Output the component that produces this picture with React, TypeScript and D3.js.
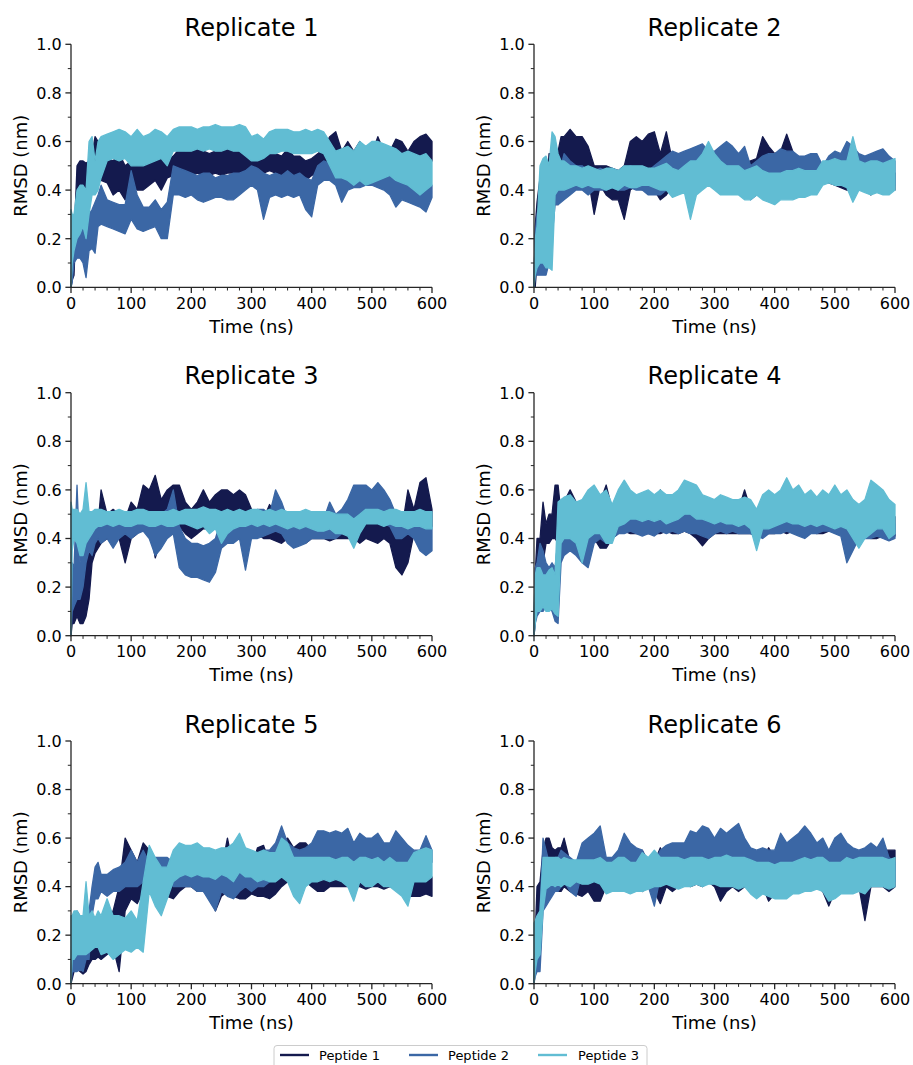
import React from 'react';
import * as d3 from 'd3';

// Time samples (ns)
const times = [0, 2, 5, 10, 15, 20, 25, 30, 35, 40, 45, 50,
  60, 70, 80, 90, 100, 110, 120, 130, 140, 150, 160, 170, 180, 190, 200,
  210, 220, 230, 240, 250, 260, 270, 280, 290, 300, 310, 320, 330, 340, 350,
  360, 370, 380, 390, 400, 410, 420, 430, 440, 450, 460, 470, 480, 490, 500,
  510, 520, 530, 540, 550, 560, 570, 580, 590, 600];

// RMSD (nm) lower / upper envelope of each noisy trace at the sample times
// ---------- Replicate 1 ----------
const r1p1Lo = [0, .03, .05, .38, .40, .41, .40, .42, .45, .50, .48, .44,
  .43, .38, .40, .36, .42, .40, .40, .42, .44, .40, .45, .46, .47, .47, .46,
  .47, .46, .46, .47, .46, .47, .47, .47, .48, .45, .46, .47, .48, .47, .46,
  .47, .46, .45, .44, .46, .47, .48, .52, .50, .38, .44, .42, .42, .42, .43,
  .44, .44, .42, .50, .50, .44, .50, .52, .50, .52];
const r1p1Hi = [.02, .12, .20, .50, .52, .52, .51, .52, .55, .62, .60, .52,
  .53, .52, .55, .50, .52, .50, .52, .53, .54, .55, .52, .54, .57, .56, .56,
  .57, .56, .55, .56, .56, .57, .56, .57, .55, .52, .53, .54, .55, .55, .54,
  .57, .54, .54, .52, .53, .55, .57, .62, .64, .56, .60, .56, .60, .52, .55,
  .62, .56, .56, .61, .60, .56, .60, .62, .63, .60];
const r1p2Lo = [0, .02, .10, .12, .12, .10, .04, .15, .16, .14, .25, .26,
  .25, .24, .23, .22, .28, .24, .23, .24, .25, .20, .20, .38, .38, .37, .38,
  .36, .35, .36, .37, .37, .36, .36, .38, .40, .42, .40, .28, .37, .38, .37,
  .38, .37, .38, .32, .29, .42, .44, .44, .42, .35, .40, .41, .41, .42, .42,
  .41, .40, .38, .33, .36, .35, .34, .33, .31, .37];
const r1p2Hi = [.02, .15, .25, .26, .25, .24, .20, .30, .32, .35, .38, .42,
  .36, .35, .34, .34, .48, .38, .33, .33, .36, .32, .35, .50, .49, .48, .47,
  .46, .47, .47, .45, .46, .46, .47, .47, .48, .50, .49, .47, .46, .47, .46,
  .48, .46, .47, .45, .44, .50, .52, .51, .50, .46, .52, .50, .48, .47, .50,
  .51, .50, .47, .44, .45, .44, .43, .42, .41, .42];
const r1p3Lo = [0, .10, .15, .20, .22, .25, .20, .30, .38, .38, .40, .45,
  .52, .53, .52, .53, .50, .50, .50, .51, .52, .53, .50, .56, .56, .56, .56,
  .57, .56, .57, .56, .56, .57, .56, .56, .54, .52, .52, .53, .55, .55, .56,
  .56, .55, .55, .55, .55, .56, .55, .50, .45, .45, .44, .42, .44, .42, .43,
  .44, .45, .46, .44, .43, .42, .40, .38, .40, .42];
const r1p3Hi = [.32, .30, .30, .40, .42, .42, .40, .60, .62, .52, .60, .62,
  .63, .64, .65, .64, .62, .65, .62, .63, .65, .64, .62, .65, .66, .66, .66,
  .65, .66, .66, .67, .66, .66, .66, .67, .66, .62, .63, .61, .64, .65, .65,
  .65, .64, .64, .65, .64, .65, .64, .60, .56, .57, .58, .56, .60, .58, .60,
  .60, .59, .58, .57, .55, .56, .55, .54, .55, .52];

// ---------- Replicate 2 ----------
const r2p1Lo = [0, 0, .10, .20, .15, .10, .30, .35, .34, .34, .40, .42,
  .48, .48, .47, .45, .30, .42, .38, .36, .36, .28, .40, .42, .40, .42, .40,
  .36, .38, .42, .43, .42, .43, .42, .44, .43, .44, .43, .41, .40, .42, .41,
  .42, .42, .45, .47, .44, .45, .48, .46, .44, .43, .42, .43, .44, .43, .42,
  .41, .40, .40, .41, .40, .38, .41, .40, .40, .40];
const r2p1Hi = [.02, .25, .35, .45, .40, .35, .55, .55, .50, .56, .62, .62,
  .65, .62, .62, .58, .50, .50, .50, .49, .48, .50, .60, .62, .60, .63, .64,
  .55, .64, .52, .51, .50, .52, .50, .52, .52, .53, .54, .52, .50, .53, .51,
  .52, .53, .62, .58, .55, .56, .63, .56, .52, .52, .52, .50, .50, .50, .50,
  .49, .48, .49, .50, .48, .46, .50, .49, .48, .47];
const r2p2Lo = [0, .05, .05, .05, .05, .05, .10, .20, .34, .34, .35, .36,
  .38, .40, .40, .38, .40, .40, .40, .41, .40, .40, .41, .40, .40, .38, .38,
  .38, .40, .42, .43, .44, .44, .44, .45, .44, .44, .45, .46, .45, .44, .45,
  .36, .38, .40, .46, .45, .44, .46, .46, .45, .45, .45, .45, .43, .44, .45,
  .46, .47, .46, .45, .45, .45, .46, .45, .44, .42];
const r2p2Hi = [.02, .22, .30, .35, .38, .50, .50, .55, .57, .50, .50, .55,
  .52, .50, .50, .48, .48, .49, .48, .49, .48, .48, .50, .49, .48, .48, .50,
  .52, .54, .56, .55, .56, .57, .58, .59, .56, .56, .58, .60, .58, .55, .58,
  .50, .52, .54, .55, .55, .57, .56, .56, .54, .54, .55, .55, .50, .54, .56,
  .55, .60, .58, .55, .54, .55, .56, .57, .54, .52];
const r2p3Lo = [0, .05, .08, .10, .10, .08, .08, .07, .38, .40, .40, .40,
  .41, .42, .41, .42, .41, .41, .40, .41, .40, .42, .41, .41, .42, .42, .41,
  .40, .40, .37, .38, .39, .28, .38, .40, .42, .40, .38, .38, .38, .38, .36,
  .36, .38, .36, .35, .34, .36, .36, .36, .37, .37, .38, .38, .42, .43, .42,
  .42, .41, .35, .40, .39, .38, .39, .38, .38, .40];
const r2p3Hi = [.05, .20, .25, .50, .53, .54, .50, .64, .62, .55, .52, .52,
  .50, .50, .49, .50, .49, .48, .49, .49, .48, .50, .50, .50, .50, .49, .49,
  .50, .51, .49, .48, .50, .52, .52, .55, .60, .55, .52, .50, .50, .50, .48,
  .49, .50, .48, .47, .47, .47, .48, .48, .49, .48, .48, .48, .52, .52, .53,
  .52, .52, .62, .52, .51, .52, .52, .51, .52, .53];

// ---------- Replicate 3 ----------
const r3p1Lo = [0, .05, .05, .08, .05, .05, .08, .15, .30, .34, .36, .38,
  .40, .38, .40, .30, .40, .42, .45, .46, .32, .40, .42, .44, .45, .42, .40,
  .42, .44, .44, .45, .47, .48, .47, .47, .46, .44, .42, .40, .40, .39, .38,
  .40, .38, .39, .38, .40, .40, .40, .39, .40, .40, .40, .40, .38, .40, .39,
  .38, .40, .38, .28, .25, .30, .42, .46, .48, .45];
const r3p1Hi = [.02, .28, .25, .22, .20, .22, .30, .38, .42, .45, .46, .60,
  .50, .52, .50, .48, .55, .52, .62, .60, .66, .56, .60, .62, .62, .55, .52,
  .55, .60, .55, .58, .60, .60, .58, .60, .58, .52, .50, .48, .54, .50, .50,
  .48, .48, .48, .47, .48, .47, .48, .46, .48, .48, .47, .48, .46, .50, .47,
  .46, .48, .45, .44, .44, .60, .52, .63, .65, .52];
const r3p2Lo = [0, .10, .12, .15, .15, .20, .30, .35, .33, .38, .40, .38,
  .40, .36, .40, .42, .40, .42, .43, .40, .33, .36, .40, .42, .28, .25, .24,
  .24, .23, .22, .26, .36, .38, .38, .40, .27, .40, .40, .41, .42, .43, .42,
  .38, .36, .37, .38, .40, .40, .40, .40, .40, .42, .44, .48, .50, .50, .48,
  .48, .46, .45, .40, .40, .42, .40, .35, .33, .35];
const r3p2Hi = [.02, .30, .28, .62, .30, .40, .45, .48, .47, .50, .50, .48,
  .50, .48, .50, .50, .49, .50, .51, .50, .48, .50, .52, .60, .45, .40, .38,
  .38, .37, .38, .40, .48, .50, .48, .48, .46, .50, .52, .52, .50, .60, .55,
  .48, .47, .47, .48, .50, .48, .48, .55, .50, .52, .56, .62, .62, .62, .60,
  .63, .60, .56, .50, .48, .50, .50, .46, .48, .45];
const r3p3Lo = [0, .35, .40, .38, .33, .33, .38, .40, .42, .44, .45, .45,
  .46, .45, .46, .45, .45, .46, .46, .45, .45, .46, .45, .45, .46, .46, .45,
  .44, .45, .42, .44, .38, .42, .44, .45, .45, .46, .45, .46, .45, .46, .45,
  .44, .45, .44, .45, .44, .43, .43, .44, .42, .42, .41, .36, .42, .46, .46,
  .46, .45, .46, .45, .45, .44, .45, .45, .44, .44];
const r3p3Hi = [.55, .52, .52, .52, .50, .52, .63, .51, .51, .52, .52, .52,
  .51, .51, .52, .51, .51, .52, .52, .51, .51, .51, .51, .52, .51, .52, .52,
  .52, .53, .52, .52, .51, .52, .51, .52, .51, .52, .52, .51, .52, .51, .52,
  .51, .51, .51, .52, .51, .51, .51, .51, .50, .50, .50, .48, .50, .52, .52,
  .52, .51, .52, .52, .51, .51, .51, .52, .51, .51];

// ---------- Replicate 4 ----------
const r4p1Lo = [0, .05, .15, .28, .30, .38, .38, .40, .40, .38, .35, .36,
  .36, .34, .38, .38, .40, .36, .36, .40, .42, .43, .42, .42, .42, .42, .42,
  .42, .43, .42, .42, .43, .42, .40, .37, .40, .42, .42, .42, .42, .42, .42,
  .42, .41, .42, .42, .42, .43, .42, .43, .42, .42, .43, .42, .42, .43, .43,
  .42, .40, .42, .40, .42, .40, .40, .41, .40, .41];
const r4p1Hi = [.02, .25, .40, .40, .55, .46, .50, .50, .62, .62, .50, .55,
  .60, .55, .52, .50, .52, .55, .62, .52, .52, .52, .52, .51, .52, .52, .52,
  .60, .52, .51, .51, .52, .52, .51, .50, .52, .51, .52, .52, .51, .52, .60,
  .52, .52, .52, .51, .52, .53, .52, .60, .52, .52, .52, .51, .51, .52, .58,
  .52, .51, .50, .50, .52, .48, .48, .49, .48, .49];
const r4p2Lo = [0, .05, .08, .10, .10, .12, .12, .10, .06, .05, .30, .33,
  .35, .33, .30, .28, .38, .40, .38, .40, .42, .42, .43, .42, .41, .42, .41,
  .43, .42, .43, .42, .43, .42, .42, .41, .40, .42, .43, .42, .43, .42, .42,
  .42, .41, .40, .42, .42, .42, .43, .42, .41, .40, .42, .42, .43, .43, .42,
  .41, .30, .35, .40, .40, .40, .41, .40, .39, .40];
const r4p2Hi = [.05, .28, .30, .38, .35, .30, .28, .30, .28, .40, .50, .50,
  .55, .52, .50, .52, .50, .52, .48, .50, .52, .50, .50, .49, .49, .48, .48,
  .50, .48, .50, .48, .51, .50, .51, .50, .48, .48, .49, .48, .49, .48, .49,
  .48, .48, .48, .49, .50, .48, .49, .48, .48, .47, .48, .47, .49, .48, .47,
  .47, .46, .46, .48, .47, .47, .47, .46, .46, .46];
const r4p3Lo = [0, .05, .10, .10, .12, .10, .10, .11, .09, .08, .38, .40,
  .40, .38, .30, .40, .42, .42, .38, .38, .45, .46, .48, .48, .47, .48, .47,
  .48, .46, .47, .48, .50, .50, .48, .48, .47, .46, .47, .46, .46, .45, .46,
  .44, .35, .44, .44, .45, .46, .47, .46, .46, .45, .46, .45, .46, .45, .44,
  .45, .44, .40, .36, .40, .42, .44, .44, .40, .42];
const r4p3Hi = [.10, .25, .28, .28, .25, .25, .27, .28, .25, .55, .56, .57,
  .58, .55, .56, .60, .62, .58, .60, .54, .60, .64, .60, .58, .59, .60, .58,
  .60, .58, .58, .60, .64, .63, .62, .58, .57, .56, .58, .57, .56, .56, .57,
  .56, .52, .58, .60, .58, .60, .65, .60, .62, .58, .60, .57, .60, .58, .62,
  .58, .60, .56, .54, .56, .64, .62, .60, .56, .54];

// ---------- Replicate 5 ----------
const r5p1Lo = [0, .02, .05, .06, .05, .04, .05, .08, .10, .10, .11, .10,
  .12, .15, .05, .30, .35, .33, .38, .40, .38, .36, .36, .35, .38, .40, .40,
  .38, .38, .37, .30, .36, .38, .36, .35, .35, .37, .36, .36, .35, .37, .40,
  .42, .42, .40, .42, .40, .38, .38, .40, .40, .40, .40, .40, .40, .39, .40,
  .40, .39, .40, .39, .38, .36, .36, .36, .37, .36];
const r5p1Hi = [.02, .15, .18, .20, .15, .15, .18, .20, .20, .22, .22, .22,
  .25, .30, .40, .60, .55, .50, .58, .55, .50, .48, .46, .45, .45, .46, .47,
  .47, .46, .46, .46, .47, .60, .48, .47, .46, .48, .56, .57, .50, .55, .58,
  .60, .56, .58, .58, .55, .50, .44, .44, .44, .43, .43, .44, .43, .43, .43,
  .44, .43, .43, .43, .42, .42, .43, .42, .43, .44];
const r5p2Lo = [0, .05, .05, .05, .06, .05, .10, .10, .28, .35, .35, .38,
  .36, .38, .38, .40, .40, .40, .42, .44, .45, .44, .44, .40, .40, .40, .40,
  .38, .38, .34, .30, .38, .36, .35, .38, .40, .38, .40, .40, .42, .45, .48,
  .45, .44, .44, .45, .45, .50, .52, .50, .50, .49, .50, .48, .48, .47, .48,
  .50, .49, .48, .50, .48, .45, .46, .47, .48, .50];
const r5p2Hi = [.05, .25, .25, .30, .28, .20, .28, .30, .40, .48, .50, .45,
  .45, .47, .48, .50, .55, .50, .55, .50, .52, .52, .52, .50, .52, .50, .52,
  .48, .50, .47, .48, .50, .48, .47, .50, .52, .50, .52, .55, .55, .58, .65,
  .58, .56, .55, .56, .58, .63, .63, .62, .63, .62, .64, .58, .62, .60, .60,
  .62, .58, .58, .63, .60, .57, .55, .55, .61, .55];
const r5p3Lo = [0, .10, .10, .12, .12, .12, .12, .13, .14, .15, .15, .12,
  .13, .10, .12, .14, .13, .15, .13, .38, .32, .28, .35, .42, .44, .45, .44,
  .45, .44, .44, .43, .45, .44, .42, .46, .44, .44, .42, .43, .42, .42, .44,
  .42, .36, .33, .40, .42, .42, .43, .42, .43, .42, .40, .34, .42, .40, .40,
  .42, .40, .40, .38, .36, .32, .42, .42, .42, .44];
const r5p3Hi = [.28, .28, .30, .30, .28, .28, .42, .28, .30, .27, .30, .28,
  .35, .28, .28, .27, .30, .26, .42, .57, .52, .48, .48, .55, .58, .57, .57,
  .58, .56, .56, .55, .56, .56, .58, .62, .56, .55, .54, .55, .54, .54, .60,
  .58, .52, .52, .52, .52, .52, .52, .52, .51, .52, .52, .50, .52, .52, .51,
  .52, .50, .52, .50, .50, .50, .54, .55, .56, .55];

// ---------- Replicate 6 ----------
const r6p1Lo = [0, .05, .10, .25, .35, .40, .42, .40, .42, .38, .38, .40,
  .38, .37, .36, .38, .34, .34, .40, .40, .42, .42, .40, .40, .38, .40, .38,
  .33, .40, .38, .40, .41, .40, .41, .40, .42, .40, .34, .38, .40, .38, .40,
  .40, .40, .40, .34, .37, .38, .40, .40, .40, .42, .40, .40, .38, .32, .38,
  .40, .40, .40, .40, .26, .40, .40, .40, .38, .40];
const r6p1Hi = [.02, .20, .40, .42, .55, .60, .60, .56, .55, .56, .56, .60,
  .50, .48, .48, .50, .48, .46, .50, .48, .50, .52, .50, .50, .55, .50, .50,
  .56, .50, .50, .50, .50, .50, .52, .50, .52, .50, .50, .52, .52, .50, .52,
  .50, .50, .52, .56, .52, .52, .58, .55, .52, .55, .52, .52, .55, .50, .52,
  .52, .52, .52, .52, .50, .52, .52, .55, .55, .55];
const r6p2Lo = [0, .03, .05, .05, .30, .32, .34, .36, .38, .38, .40, .42,
  .38, .36, .46, .48, .48, .48, .44, .44, .45, .45, .46, .45, .44, .40, .32,
  .44, .45, .46, .46, .46, .48, .48, .50, .48, .48, .48, .48, .48, .48, .46,
  .44, .42, .45, .44, .42, .46, .45, .46, .48, .50, .48, .46, .45, .42, .45,
  .46, .44, .44, .40, .42, .42, .42, .42, .40, .42];
const r6p2Hi = [.02, .20, .25, .30, .60, .55, .50, .50, .52, .52, .55, .54,
  .52, .50, .58, .60, .62, .65, .52, .52, .55, .62, .58, .56, .55, .50, .50,
  .55, .57, .58, .58, .58, .63, .62, .65, .64, .60, .64, .62, .64, .66, .60,
  .56, .55, .56, .55, .55, .62, .58, .60, .62, .65, .62, .58, .60, .55, .60,
  .62, .58, .56, .55, .56, .58, .56, .60, .52, .50];
const r6p3Lo = [0, .05, .10, .12, .30, .39, .40, .41, .40, .41, .40, .41,
  .40, .42, .41, .41, .42, .41, .37, .38, .38, .38, .37, .38, .38, .39, .40,
  .40, .41, .40, .39, .40, .40, .41, .40, .41, .41, .40, .40, .40, .39, .40,
  .37, .35, .37, .36, .35, .35, .35, .37, .37, .38, .38, .39, .38, .34, .35,
  .37, .37, .37, .38, .37, .40, .40, .40, .39, .40];
const r6p3Hi = [.25, .26, .28, .30, .52, .52, .52, .52, .52, .52, .51, .52,
  .51, .51, .51, .51, .51, .52, .50, .50, .52, .52, .50, .50, .54, .52, .55,
  .52, .52, .52, .52, .51, .52, .52, .52, .51, .52, .52, .53, .52, .52, .52,
  .51, .50, .50, .50, .49, .50, .50, .50, .51, .52, .51, .52, .52, .50, .50,
  .50, .52, .51, .52, .52, .52, .52, .52, .51, .52];

const replicateTitles = ['Replicate 1', 'Replicate 2', 'Replicate 3', 'Replicate 4', 'Replicate 5', 'Replicate 6'];
const peptideNames = ['Peptide 1', 'Peptide 2', 'Peptide 3'];
const peptideColors = ['#141a4e', '#3b67a5', '#61bdd3'];
const xTickValues = [0, 100, 200, 300, 400, 500, 600];
const yTickValues = [0, 0.2, 0.4, 0.6, 0.8, 1.0];

const replicateSeries: number[][][][] = [
  [[r1p1Lo, r1p1Hi], [r1p2Lo, r1p2Hi], [r1p3Lo, r1p3Hi]],
  [[r2p1Lo, r2p1Hi], [r2p2Lo, r2p2Hi], [r2p3Lo, r2p3Hi]],
  [[r3p1Lo, r3p1Hi], [r3p2Lo, r3p2Hi], [r3p3Lo, r3p3Hi]],
  [[r4p1Lo, r4p1Hi], [r4p2Lo, r4p2Hi], [r4p3Lo, r4p3Hi]],
  [[r5p1Lo, r5p1Hi], [r5p2Lo, r5p2Hi], [r5p3Lo, r5p3Hi]],
  [[r6p1Lo, r6p1Hi], [r6p2Lo, r6p2Hi], [r6p3Lo, r6p3Hi]],
];

const FONT = 'DejaVu Sans, Liberation Sans, sans-serif';
const AXIS = '#262626';

const colX = [[71, 432], [534, 895]];
const rowY = [[287.3, 44.3], [635.7, 392.7], [983.7, 741]];

function Panel({ idx }: { idx: number }) {
  const [xa, xb] = colX[idx % 2];
  const [ya, yb] = rowY[Math.floor(idx / 2)];
  const x = d3.scaleLinear().domain([0, 600]).range([xa, xb]);
  const y = d3.scaleLinear().domain([0, 1]).range([ya, yb]);
  const series = replicateSeries[idx];
  const xMinor = d3.range(0, 601, 20).filter((v) => v % 100 !== 0);
  const yMinor = d3.range(1, 10, 2).map((v) => v / 10);
  const midX = (xa + xb) / 2;
  const midY = (ya + yb) / 2;
  return (
    <g>
      {series.map(([lo, hi], s) => {
        const n = Math.min(times.length, lo.length, hi.length);
        const idxs = d3.range(n);
        const area = d3
          .area<number>()
          .x((i) => x(times[i]))
          .y0((i) => y(lo[i]))
          .y1((i) => y(hi[i]));
        return (
          <path
            key={s}
            d={area(idxs) || ''}
            fill={peptideColors[s]}
            stroke={peptideColors[s]}
            strokeWidth={1.3}
            strokeLinejoin="round"
          />
        );
      })}
      {/* spines */}
      <line x1={xa} x2={xb} y1={ya} y2={ya} stroke={AXIS} strokeWidth={1.3} />
      <line x1={xa} x2={xa} y1={ya} y2={yb} stroke={AXIS} strokeWidth={1.3} />
      {/* x ticks */}
      {xTickValues.map((v) => (
        <g key={'xt' + v}>
          <line x1={x(v)} x2={x(v)} y1={ya} y2={ya + 5.6} stroke={AXIS} strokeWidth={1.3} />
          <text x={x(v)} y={ya + 21.3} fontSize={16} textAnchor="middle" fontFamily={FONT} fill="#000">
            {v}
          </text>
        </g>
      ))}
      {xMinor.map((v) => (
        <line key={'xm' + v} x1={x(v)} x2={x(v)} y1={ya} y2={ya + 3.2} stroke={AXIS} strokeWidth={1} />
      ))}
      {/* y ticks */}
      {yTickValues.map((v) => (
        <g key={'yt' + v}>
          <line x1={xa - 5.6} x2={xa} y1={y(v)} y2={y(v)} stroke={AXIS} strokeWidth={1.3} />
          <text x={xa - 9.3} y={y(v) + 5.8} fontSize={16} textAnchor="end" fontFamily={FONT} fill="#000">
            {v.toFixed(1)}
          </text>
        </g>
      ))}
      {yMinor.map((v) => (
        <line key={'ym' + v} x1={xa - 3.2} x2={xa} y1={y(v)} y2={y(v)} stroke={AXIS} strokeWidth={1} />
      ))}
      {/* labels */}
      <text x={midX} y={ya + 45.5} fontSize={18} textAnchor="middle" fontFamily={FONT} fill="#000">
        Time (ns)
      </text>
      <text
        transform={`translate(${xa - 44.5},${midY}) rotate(-90)`}
        fontSize={18}
        textAnchor="middle"
        fontFamily={FONT}
        fill="#000"
      >
        RMSD (nm)
      </text>
      <text x={midX} y={yb - 8.3} fontSize={24} textAnchor="middle" fontFamily={FONT} fill="#000">
        {replicateTitles[idx]}
      </text>
    </g>
  );
}

function Legend() {
  const entries = [
    { lx: 280, tx: 319 },
    { lx: 409, tx: 448 },
    { lx: 538, tx: 578 },
  ];
  return (
    <g>
      <rect x={274} y={1045.5} width={373} height={30} rx={3} fill="#fff" fillOpacity={0.8} stroke="#cccccc" strokeWidth={1} />
      {entries.map((e, i) => (
        <g key={i}>
          <line x1={e.lx} x2={e.lx + 29} y1={1055} y2={1055} stroke={peptideColors[i]} strokeWidth={2.4} />
          <text x={e.tx} y={1059.5} fontSize={13} fontFamily={FONT} fill="#000">
            {peptideNames[i]}
          </text>
        </g>
      ))}
    </g>
  );
}

export default function App() {
  return (
    <svg
      width={913}
      height={1065}
      viewBox="0 0 913 1065"
      style={{ position: 'absolute', left: 0, top: 0, background: '#fff' }}
    >
      <rect x={0} y={0} width={913} height={1065} fill="#fff" />
      {replicateTitles.map((_, i) => (
        <Panel key={i} idx={i} />
      ))}
      <Legend />
    </svg>
  );
}
